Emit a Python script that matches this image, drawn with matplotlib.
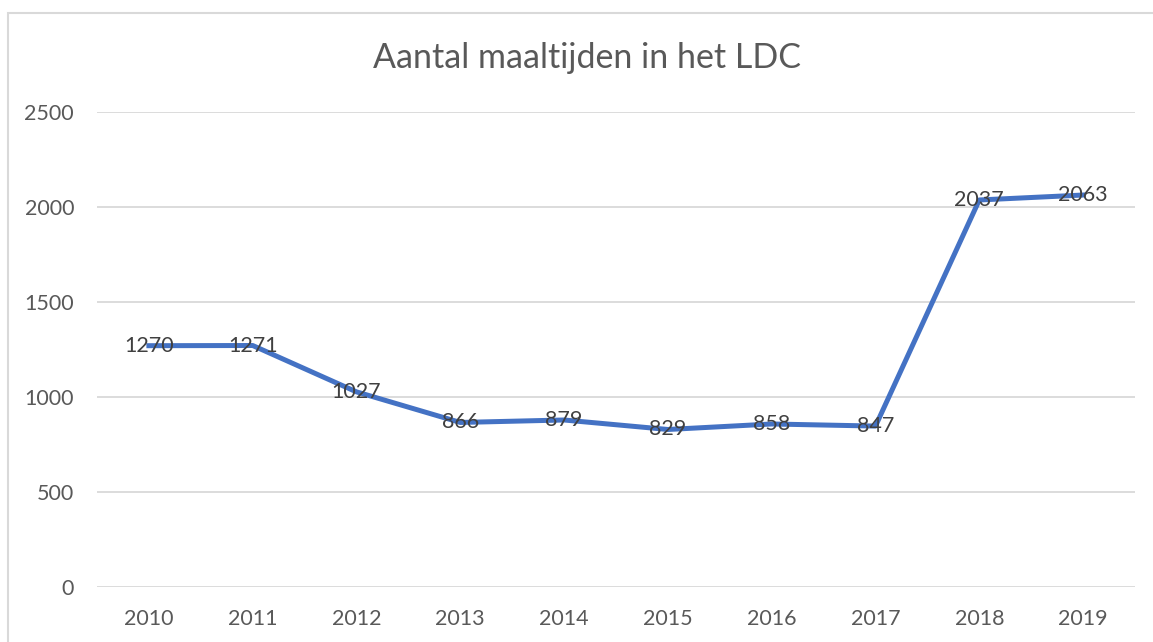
import matplotlib.pyplot as plt
from matplotlib.patches import Rectangle

years = ["2010", "2011", "2012", "2013", "2014", "2015", "2016", "2017", "2018", "2019"]
maaltijden = [1270, 1271, 1027, 866, 879, 829, 858, 847, 2037, 2063]
yticks = [0, 500, 1000, 1500, 2000, 2500]

plt.rcParams['font.family'] = ['Lato', 'DejaVu Sans']

fig = plt.figure(figsize=(11.53, 6.42), dpi=100)
fig.patch.set_facecolor('white')

# light border like the Excel chart area
fig.patches.append(Rectangle((8 / 1153, -0.1), 1.2, 1 - 13 / 642 + 0.1,
                             transform=fig.transFigure, fill=False,
                             edgecolor='#D9D9D9', linewidth=1.5))

ax = fig.add_axes([97 / 1153, 1 - 587 / 642, (1135 - 97) / 1153, (587 - 112) / 642])
x = range(len(years))
ax.plot(x, maaltijden, color='#4472C4', linewidth=3.6, solid_joinstyle='round', zorder=3)
for xi, v in zip(x, maaltijden):
    ax.text(xi, v, str(v), ha='center', va='center', fontsize=15.5, color='#404040', zorder=4)

ax.set_xlim(-0.5, len(years) - 0.5)
ax.set_ylim(0, 2500)
ax.set_yticks(yticks)
ax.set_xticks(list(x))
ax.set_xticklabels(years)
ax.tick_params(length=0, labelsize=15.5, labelcolor='#595959')
ax.tick_params(axis='y', pad=16.5)
ax.tick_params(axis='x', pad=16)
ax.grid(axis='y', color='#D9D9D9', linewidth=1.3)
ax.set_axisbelow(True)
for s in ax.spines.values():
    s.set_visible(False)

fig.text(587 / 1153, 1 - 58 / 642, "Aantal maaltijden in het LDC", ha='center', va='center',
         fontsize=24.5, color='#595959')

fig.savefig('out.png', dpi=100)
